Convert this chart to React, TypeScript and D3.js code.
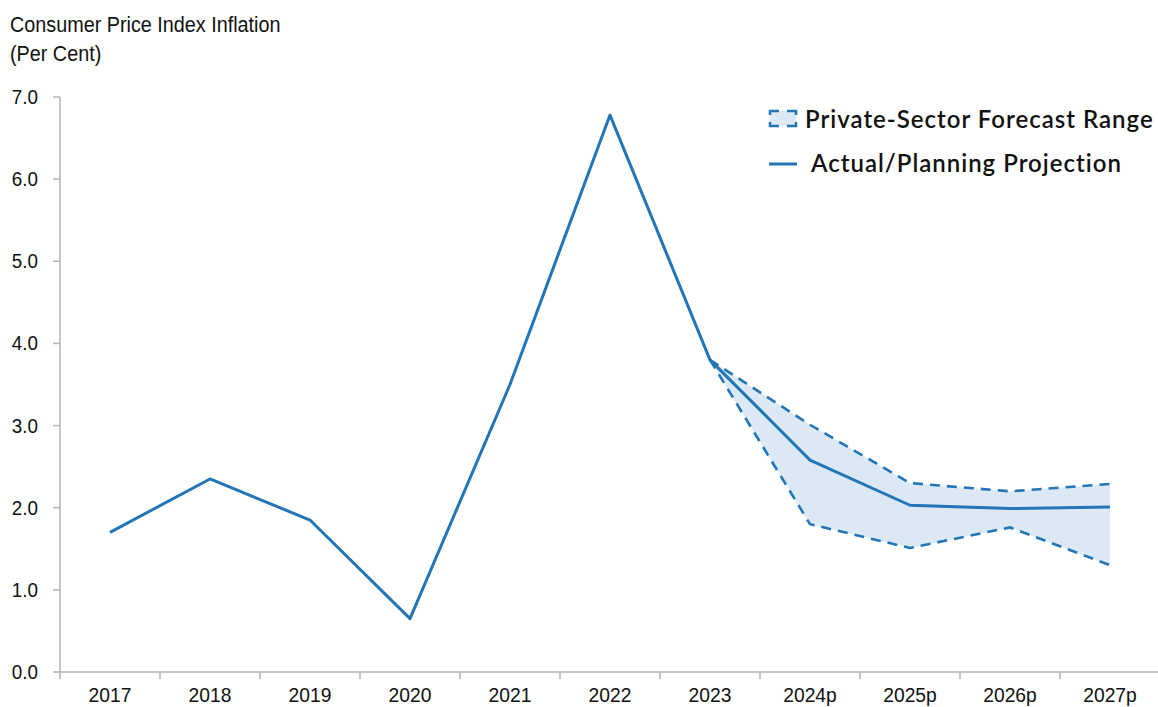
import React from "react";
import * as d3 from "d3";

const categories = ["2017", "2018", "2019", "2020", "2021", "2022", "2023", "2024p", "2025p", "2026p", "2027p"];
const actualValues = [1.7, 2.35, 1.85, 0.65, 3.5, 6.78, 3.8, 2.58, 2.03, 1.99, 2.01];
const rangeCategories = ["2023", "2024p", "2025p", "2026p", "2027p"];
const rangeHigh = [3.8, 3.01, 2.3, 2.2, 2.29];
const rangeLow = [3.8, 1.8, 1.51, 1.76, 1.3];
const yTicks = [0, 1, 2, 3, 4, 5, 6, 7];

const W = 1158;
const H = 707;
const BLUE = "#2275b6";
const FILL = "#dce9f4";
const AXIS = "#b3b3b6";
const FONT = "'Liberation Sans', Arial, sans-serif";
const LEGEND_FONT = "Lato, 'Open Sans', sans-serif";

function NText(props: { x: number; y: number; size: number; sx: number; anchor?: string; children: React.ReactNode }) {
  return (
    <text
      transform={`translate(${props.x},${props.y}) scale(${props.sx},1)`}
      textAnchor={props.anchor || "start"}
      fontFamily={FONT}
      fontSize={props.size}
      fill="#111"
    >
      {props.children}
    </text>
  );
}

export default function App() {
  const x = d3.scaleBand<string>().domain(categories).range([60, 1160]);
  const y = d3.scaleLinear().domain([0, 7]).range([672, 97]);
  const cx = (c: string) => (x(c) as number) + x.bandwidth() / 2;

  const line = d3
    .line<number>()
    .x((_, i) => cx(categories[i]))
    .y((d) => y(d));
  const rangeArea = d3
    .area<number>()
    .x((_, i) => cx(rangeCategories[i]))
    .y0((_, i) => y(rangeLow[i]))
    .y1((d) => y(d));
  const rangeLine = d3
    .line<number>()
    .x((_, i) => cx(rangeCategories[i]))
    .y((d) => y(d));

  return (
    <svg width={W} height={H} style={{ position: "absolute", left: 0, top: 0, background: "#fff" }}>
      <NText x={10} y={32} size={22} sx={0.9}>Consumer Price Index Inflation</NText>
      <NText x={10} y={61} size={22} sx={0.9}>(Per Cent)</NText>

      {/* Y axis */}
      <line x1={60} x2={60} y1={y(7)} y2={y(0)} stroke={AXIS} strokeWidth={1.5} />
      {yTicks.map((t) => (
        <g key={t}>
          <line x1={53} x2={60} y1={y(t)} y2={y(t)} stroke={AXIS} strokeWidth={1.5} />
          <NText x={38} y={y(t) + 7} size={20.5} sx={0.92} anchor="end">{t.toFixed(1)}</NText>
        </g>
      ))}

      {/* X axis */}
      <line x1={60} x2={1160} y1={y(0)} y2={y(0)} stroke={AXIS} strokeWidth={1.5} />
      {categories.map((c) => (
        <g key={c}>
          <line x1={x(c) as number} x2={x(c) as number} y1={y(0)} y2={y(0) + 7} stroke={AXIS} strokeWidth={1.5} />
          <NText x={cx(c)} y={702} size={20.5} sx={0.94} anchor="middle">{c}</NText>
        </g>
      ))}

      {/* Forecast range */}
      <path d={rangeArea(rangeHigh) || ""} fill={FILL} />
      <path d={rangeLine(rangeHigh) || ""} fill="none" stroke={BLUE} strokeWidth={2.6} strokeDasharray="10 7" />
      <path d={rangeLine(rangeLow) || ""} fill="none" stroke={BLUE} strokeWidth={2.6} strokeDasharray="10 7" />

      {/* Actual line */}
      <path d={line(actualValues) || ""} fill="none" stroke={BLUE} strokeWidth={3} strokeLinejoin="round" />

      {/* Legend */}
      <rect x={770} y={111} width={26} height={15} fill={FILL} stroke={BLUE} strokeWidth={2.5} strokeDasharray="9 8 13 7 13 8 13 7 4" />
      <text x={805} y={128} fontFamily={LEGEND_FONT} fontWeight={600} fontSize={24} letterSpacing={1} fill="#111">
        Private-Sector Forecast Range
      </text>
      <line x1={769} x2={797} y1={164} y2={164} stroke={BLUE} strokeWidth={3} />
      <text x={811} y={172} fontFamily={LEGEND_FONT} fontWeight={600} fontSize={24} letterSpacing={1} fill="#111">
        Actual/Planning Projection
      </text>
    </svg>
  );
}
